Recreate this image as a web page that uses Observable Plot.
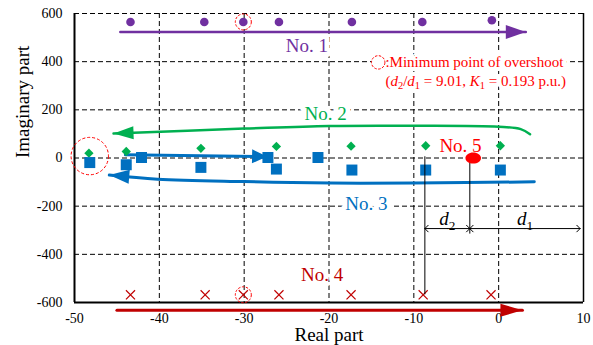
<!DOCTYPE html>
<html><head><meta charset="utf-8">
<script src="https://cdn.jsdelivr.net/npm/d3@7"></script>
<script src="https://cdn.jsdelivr.net/npm/@observablehq/plot@0.6"></script>
<style>
html,body{margin:0;padding:0;background:#fff;}
</style>
</head><body><div id="chart"></div>
<script>
// ---- data ----
const xTicks = [-50, -40, -30, -20, -10, 0, 10];
const yTicks = [-600, -400, -200, 0, 200, 400, 600];
const gridX = [-40, -30, -20, -10, 0];
const gridY = [-400, -200, 0, 200, 400, 600];

const no1Real = [-43.4, -34.7, -30.1, -25.9, -17.3, -9.0, -0.8];
const no1Imag = [565, 565, 565, 565, 565, 565, 572];
const no2Real = [-48.3, -43.9, -35.1, -26.2, -17.4, -8.6, 0.2];
const no2Imag = [20, 27, 40, 48, 49, 51, 51];
const no3Real = [-48.2, -43.9, -42.1, -35.1, -27.2, -26.2, -21.3, -17.3, -8.6, 0.2];
const no3Imag = [-19, -28, 2, -39, 2, -46, 2, -50, -50, -50];
const no4Real = [-43.4, -34.6, -30.1, -25.9, -17.4, -8.9, -0.9];
const no4Imag = [-568, -568, -568, -568, -568, -568, -568];
const no5Real = [-3.0];
const no5Imag = [0];

// trend arrows (path points, tip last)
const arrow1X = [-44.6, 3.2];
const arrow1Y = [523, 523];
const arrow2X = [3.7, 2.6, 0, -10, -20, -30, -45.4];
const arrow2Y = [99, 120, 130, 134, 133, 122, 102];
const arrow3aX = [-44, -27.3];
const arrow3aY = [13, 6];
const arrow3bX = [4.2, -10, -19.8, -30, -40.2, -45.9];
const arrow3bY = [-99, -104, -104, -98, -88, -71];
const arrow4X = [-45, 2.8];
const arrow4Y = [-632, -632];

const labelText = ["No. 1", "No. 2", "No. 3", "No. 4", "No. 5"];
const labelX = [-22.6, -20.4, -15.6, -20.8, -4.5];
const labelY = [466, 183, -190, -485, 51];

const overshootX = [-48.2, -30.1, -30.1];
const overshootY = [8, 565, -568];
const legendMarkX = [-14.2];
const legendMarkY = [397];
const legendText = [":Minimum point of overshoot", "(d2/d1 = 9.01, K1 = 0.193 p.u.)"];
const legendTextX = [-13.35, -13.35];
const legendTextY = [397, 320];

// d1 / d2 construction
const dLineX = [-8.7, -3.4];
const dLineTop = [5, 0];
const dLineBottom = [-568, -316];
const dArrowY = -293;
const dBounds = [-8.7, -3.4, 9.6];
const dNames = ["d2", "d1"];
const dNameY = -253;

// ---- build ----
const C1 = "#7030A0", C2 = "#00B050", C3 = "#0070C0", C4 = "#C00000", C5 = "#FF0000";
const serif = "'Liberation Serif','Times New Roman',Times,serif";
const zipXY = (xs, ys) => xs.map((x, i) => ({x, y: ys[i]}));

function headSym(L, W) {
  return {draw(ctx) { ctx.moveTo(0, 0); ctx.lineTo(-L, -W); ctx.lineTo(-L, W); ctx.closePath(); }};
}
const ellipseSym = {draw(ctx) {
  const rx = 7.8, ry = 5.6, k = 0.5523;
  ctx.moveTo(rx, 0);
  ctx.bezierCurveTo(rx, ry * k, rx * k, ry, 0, ry);
  ctx.bezierCurveTo(-rx * k, ry, -rx, ry * k, -rx, 0);
  ctx.bezierCurveTo(-rx, -ry * k, -rx * k, -ry, 0, -ry);
  ctx.bezierCurveTo(rx * k, -ry, rx, -ry * k, rx, 0);
  ctx.closePath();
}};
const tip = (xs, ys) => [{x: xs[xs.length - 1], y: ys[ys.length - 1]}];

const labels = labelText.map((t, i) => ({t, x: labelX[i], y: labelY[i], c: [C1, C2, C3, C4, C5][i]}));
const legend = legendText.map((t, i) => ({t, x: legendTextX[i], y: legendTextY[i]}));
const overs = zipXY(overshootX, overshootY);
const dSegs = [];
for (let i = 0; i < dBounds.length - 1; i++) {
  const m = (dBounds[i] + dBounds[i + 1]) / 2;
  dSegs.push({x1: m, x2: dBounds[i], name: dNames[i], m});
  dSegs.push({x1: m, x2: dBounds[i + 1], name: dNames[i], m});
}
const dLines = dLineX.map((x, i) => ({x, y1: dLineTop[i], y2: dLineBottom[i]}));

const chart = Plot.plot({
  width: 593, height: 345,
  marginLeft: 74, marginRight: 10, marginTop: 13, marginBottom: 43,
  style: {fontFamily: serif, fontSize: "14px", color: "#000", background: "#fff"},
  x: {domain: [-50, 10], ticks: xTicks, tickSize: 0, tickPadding: 11, tickFormat: d => String(d), label: null},
  y: {domain: [-600, 600], ticks: yTicks, tickSize: 0, tickPadding: 12, tickFormat: d => String(d), label: null},
  marks: [
    Plot.ruleX(gridX, {stroke: "#000", strokeWidth: 1, strokeDasharray: "5,3"}),
    Plot.ruleY(gridY, {stroke: "#000", strokeWidth: 1, strokeDasharray: "5,3"}),
    Plot.ruleX([10], {stroke: "#000", strokeWidth: 1.5}),
    Plot.ruleX([-50], {stroke: "#000", strokeWidth: 2}),
    Plot.ruleY([-600], {stroke: "#000", strokeWidth: 2}),
    // series labels (white halo hides grid behind them)
    Plot.text(labels, {x: "x", y: "y", text: "t", fill: "c", fontSize: 19, fontFamily: serif,
      stroke: "white", strokeWidth: 10}),
    // legend: white halo copy, then the red text
    Plot.text(legend, {x: "x", y: "y", text: "t", fill: "white", fontSize: 15, fontFamily: serif,
      textAnchor: "start", stroke: "white", strokeWidth: 8}),
    Plot.text(legend, {x: "x", y: "y", text: "t", fill: C5, fontSize: 15, fontFamily: serif,
      textAnchor: "start"}),
    Plot.dot(zipXY(legendMarkX, legendMarkY), {x: "x", y: "y", r: 6.7, stroke: C5, fill: "white",
      strokeWidth: 1, strokeDasharray: "2.5,1.5"}),
    // axis titles
    Plot.text(["Imaginary part"], {frameAnchor: "left", dx: -52, rotate: -90, text: d => d,
      fontSize: 19, fontFamily: serif, fill: "#000"}),
    Plot.text(["Real part"], {frameAnchor: "bottom", dy: 38, text: d => d,
      fontSize: 19, fontFamily: serif, fill: "#000"}),
    // trend arrows
    Plot.line(zipXY(arrow1X, arrow1Y), {x: "x", y: "y", stroke: C1, strokeWidth: 2.5}),
    Plot.dot(tip(arrow1X, arrow1Y), {x: "x", y: "y", symbol: headSym(20, 7), fill: C1, stroke: "none", rotate: 0}),
    Plot.line(zipXY(arrow2X, arrow2Y), {x: "x", y: "y", stroke: C2, strokeWidth: 2.5, curve: "catmull-rom"}),
    Plot.dot(tip(arrow2X, arrow2Y), {x: "x", y: "y", symbol: headSym(20, 6.5), fill: C2, stroke: "none", rotate: 178}),
    Plot.line(zipXY(arrow3aX, arrow3aY), {x: "x", y: "y", stroke: C3, strokeWidth: 3}),
    Plot.dot(tip(arrow3aX, arrow3aY), {x: "x", y: "y", symbol: headSym(15, 7), fill: C3, stroke: "none", rotate: 1}),
    Plot.line(zipXY(arrow3bX, arrow3bY), {x: "x", y: "y", stroke: C3, strokeWidth: 3, curve: "catmull-rom"}),
    Plot.dot(tip(arrow3bX, arrow3bY), {x: "x", y: "y", symbol: headSym(20, 7), fill: C3, stroke: "none", rotate: 185}),
    Plot.line(zipXY(arrow4X, arrow4Y), {x: "x", y: "y", stroke: C4, strokeWidth: 3}),
    Plot.dot(tip(arrow4X, arrow4Y), {x: "x", y: "y", symbol: headSym(22, 6.5), fill: C4, stroke: "none", rotate: 0}),
    // eigenvalue points
    Plot.dot(zipXY(no1Real, no1Imag), {x: "x", y: "y", r: 4.3, fill: C1, stroke: "none", symbol: "circle"}),
    Plot.dot(zipXY(no2Real, no2Imag), {x: "x", y: "y", r: 4.2, fill: C2, stroke: "none", symbol: "diamond2"}),
    Plot.dot(zipXY(no3Real, no3Imag), {x: "x", y: "y", r: 6.2, fill: C3, stroke: "none", symbol: "square"}),
    Plot.dot(zipXY(no4Real, no4Imag), {x: "x", y: "y", r: 4.2, stroke: C4, fill: "none", strokeWidth: 1.2, symbol: "times"}),
    // d1 / d2 construction
    Plot.ruleX(dLines, {x: "x", y1: "y1", y2: "y2", stroke: "#000", strokeWidth: 1}),
    Plot.arrow(dSegs, {x1: "x1", x2: "x2", y1: dArrowY, y2: dArrowY, stroke: "#000", strokeWidth: 1,
      headLength: 7, headAngle: 90, inset: 0}),
    Plot.text(dSegs.filter((d, i) => i % 2 === 0), {x: "m", y: dNameY, text: "name", fontSize: 19,
      fontFamily: serif, fill: "#000"}),
    Plot.dot(zipXY(no5Real, no5Imag), {x: "x", y: "y", symbol: ellipseSym, fill: C5, stroke: "none"}),
    // overshoot markers
    Plot.dot(overs.slice(0, 1), {x: "x", y: "y", r: 18.7, stroke: C5, fill: "none", strokeWidth: 1, strokeDasharray: "3,2"}),
    Plot.dot(overs.slice(1), {x: "x", y: "y", r: 8, stroke: C5, fill: "none", strokeWidth: 1, strokeDasharray: "2.5,1.5"})
  ]
});
document.getElementById("chart").appendChild(chart);

// rich text: italic variables with subscripts
function rich(el, parts, fs) {
  el.textContent = "";
  let shifted = false;
  for (const [s, k] of parts) {
    const t = document.createElementNS("http://www.w3.org/2000/svg", "tspan");
    t.textContent = s;
    if (k === "i") t.setAttribute("font-style", "italic");
    if (k === "sub") {
      t.setAttribute("font-size", (fs * 0.7) + "px");
      t.setAttribute("dy", (fs * 0.25) + "px");
      shifted = true;
    } else if (shifted) {
      t.setAttribute("dy", (-fs * 0.25) + "px");
      shifted = false;
    }
    el.appendChild(t);
  }
}
d3.select(chart).selectAll("text").each(function() {
  const s = this.textContent;
  if (s === "(d2/d1 = 9.01, K1 = 0.193 p.u.)") {
    rich(this, [["(", ""], ["d", "i"], ["2", "sub"], ["/", ""], ["d", "i"], ["1", "sub"], [" = 9.01, ", ""],
      ["K", "i"], ["1", "sub"], [" = 0.193 p.u.)", ""]], 15);
  } else if (s === "d2" || s === "d1") {
    rich(this, [["d", "i"], [s[1], "sub"]], 19);
  }
});
</script>
</body></html>
